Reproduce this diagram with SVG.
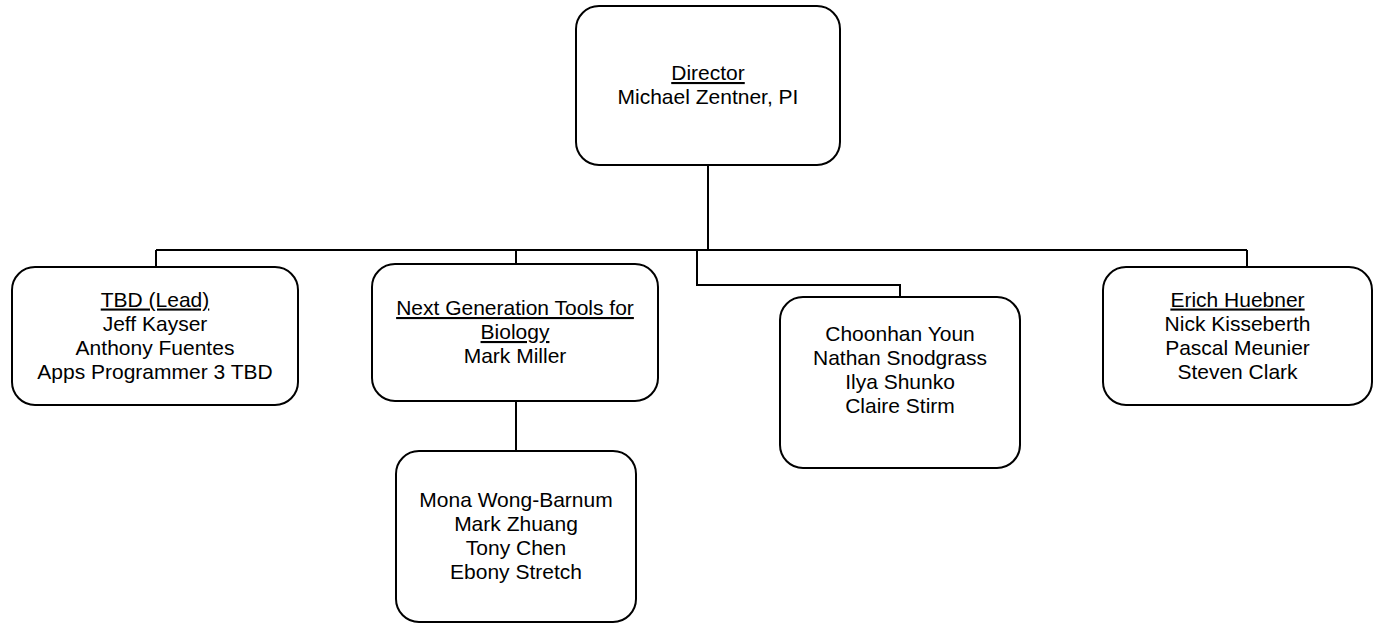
<svg xmlns="http://www.w3.org/2000/svg" width="1374" height="624" viewBox="0 0 1374 624">
<style>
.box{fill:#fff;stroke:#000;stroke-width:2}
.conn{fill:none;stroke:#000;stroke-width:2}
text{font-family:"Liberation Sans",Arial,sans-serif;font-size:21px;fill:#000;text-anchor:middle}
.u{text-decoration:underline}
</style>
<rect width="1374" height="624" fill="#fff"/>
<g id="connectors">
<path class="conn" d="M708,165 V250"/>
<path class="conn" d="M156,250 H1247"/>
<path class="conn" d="M156,250 V267"/>
<path class="conn" d="M516,250 V264"/>
<path class="conn" d="M1247,250 V267"/>
<path class="conn" d="M697,250 V285 H900 V297"/>
<path class="conn" d="M516,401 V451"/>
</g>
<g id="director">
<rect class="box" x="576" y="6" width="264" height="159" rx="23"/>
<text x="708" y="80" class="u">Director</text>
<text x="708" y="104">Michael Zentner, PI</text>
</g>
<g id="tbd">
<rect class="box" x="12" y="267" width="286" height="138" rx="23"/>
<text x="155" y="306.5" class="u">TBD (Lead)</text>
<text x="155" y="330.5">Jeff Kayser</text>
<text x="155" y="354.5">Anthony Fuentes</text>
<text x="155" y="378.5">Apps Programmer 3 TBD</text>
</g>
<g id="nextgen">
<rect class="box" x="372" y="264" width="286" height="137" rx="23"/>
<text x="515" y="315" class="u">Next Generation Tools for</text>
<text x="515" y="339" class="u">Biology</text>
<text x="515" y="363">Mark Miller</text>
</g>
<g id="biology-team">
<rect class="box" x="396" y="451" width="240" height="171" rx="23"/>
<text x="516" y="507">Mona Wong-Barnum</text>
<text x="516" y="531">Mark Zhuang</text>
<text x="516" y="555">Tony Chen</text>
<text x="516" y="579">Ebony Stretch</text>
</g>
<g id="choonhan">
<rect class="box" x="780" y="297" width="240" height="171" rx="23"/>
<text x="900" y="341">Choonhan Youn</text>
<text x="900" y="365">Nathan Snodgrass</text>
<text x="900" y="389">Ilya Shunko</text>
<text x="900" y="413">Claire Stirm</text>
</g>
<g id="erich">
<rect class="box" x="1103" y="267" width="269" height="138" rx="23"/>
<text x="1237.5" y="306.5" class="u">Erich Huebner</text>
<text x="1237.5" y="330.5">Nick Kisseberth</text>
<text x="1237.5" y="354.5">Pascal Meunier</text>
<text x="1237.5" y="378.5">Steven Clark</text>
</g>
</svg>
